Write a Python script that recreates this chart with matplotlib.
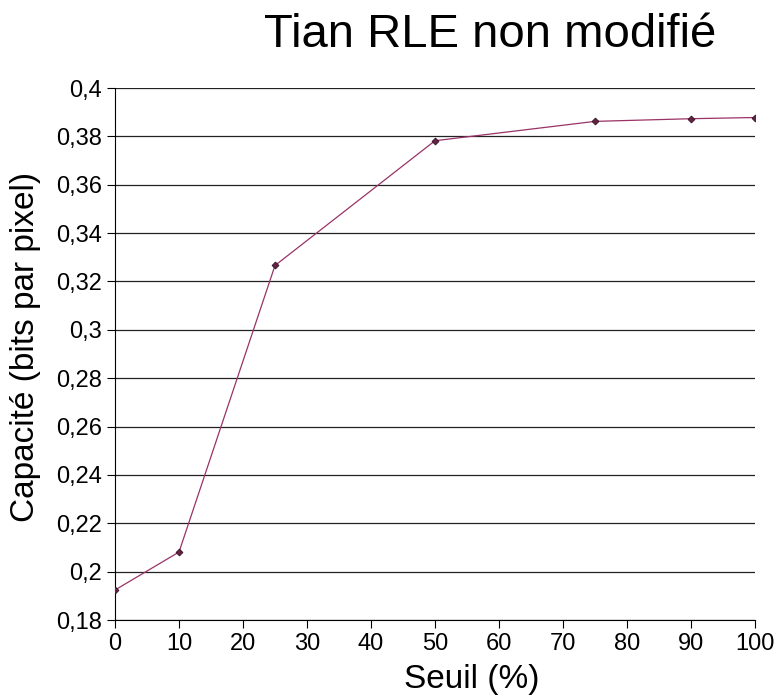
import matplotlib
matplotlib.use("Agg")
import matplotlib.pyplot as plt
from matplotlib.ticker import MultipleLocator, FuncFormatter

plt.rcParams['font.family'] = ['Liberation Sans', 'DejaVu Sans']

seuil = [0, 10, 25, 50, 75, 90, 100]
capacite = [0.1924, 0.2081, 0.3266, 0.3782, 0.3862, 0.3873, 0.3878]

fig = plt.figure(figsize=(7.79, 7.0), dpi=100)
ax = fig.add_axes([115/779, 80/700, 640/779, 532/700])

ax.plot(seuil, capacite, color='#993366', lw=0.9, marker='D', markersize=3.5,
        markerfacecolor='#662244', markeredgecolor='#331122', markeredgewidth=0.6,
        zorder=3)

ax.set_xlim(0, 100)
ax.set_ylim(0.18, 0.4)
ax.xaxis.set_major_locator(MultipleLocator(10))
ax.yaxis.set_major_locator(MultipleLocator(0.02))

def fmt(v, pos):
    s = ('%.2f' % v).rstrip('0').rstrip('.')
    return s.replace('.', ',')

ax.yaxis.set_major_formatter(FuncFormatter(fmt))
ax.grid(axis='y', color='#222222', lw=0.9)
ax.set_axisbelow(True)
for s in ['top', 'right']:
    ax.spines[s].set_visible(False)
ax.tick_params(direction='out', length=6, labelsize=17, color='black')

ax.set_xlabel('Seuil (%)', fontsize=24)
ax.xaxis.set_label_coords(0.558, -0.082)
ax.set_ylabel('Capacité (bits par pixel)', fontsize=24)
ax.yaxis.set_label_coords(-0.116, 0.513)
fig.text(490/779, 1 - 35/700, 'Tian RLE non modifié', fontsize=34,
         ha='center', va='center')

fig.savefig('out.png', dpi=100)
